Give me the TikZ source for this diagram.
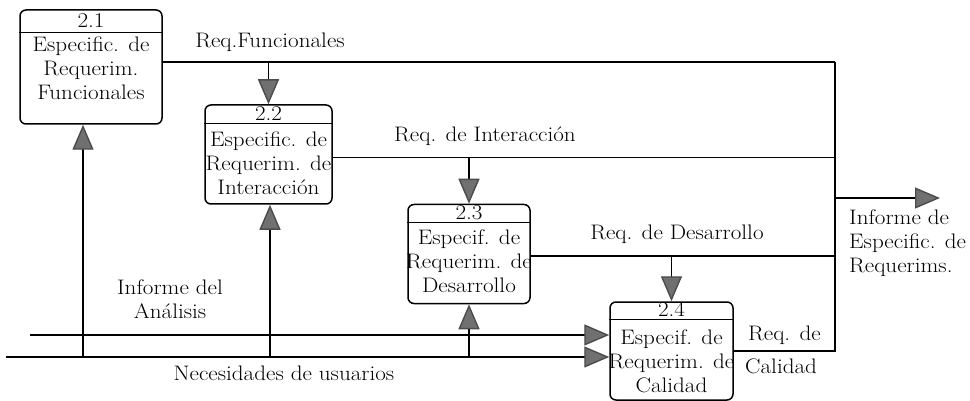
\documentclass[tikz,border=0pt]{standalone}
\usepackage{fontspec}
\setmainfont{Latin Modern Roman}[FakeStretch=1.1]
\usetikzlibrary{arrows.meta}
\definecolor{tipgray}{RGB}{112,112,112}
\tikzset{
	proc/.style={draw, line width=1.5pt, rounded corners=6pt},
	num/.style={anchor=base, inner sep=0pt, font=\fontsize{21}{24}\selectfont},
	body/.style={anchor=north, align=center, inner sep=0pt, font=\fontsize{21}{24}\selectfont},
	lbl/.style={inner sep=0pt, font=\fontsize{21}{24}\selectfont},
	flow/.style={line width=1.4pt},
	feed/.style={line width=1.4pt, -{Triangle[length=25pt,width=21pt,color=black!70,fill=tipgray]}}
}
\begin{document}
\begin{tikzpicture}[x=1pt, y=-1pt]
			\useasboundingbox (0,0) rectangle (970,401);
			
			\node[proc, minimum width=142pt, minimum height=114pt] (p21) at (91,67) {};
			\node[proc, minimum width=127pt, minimum height=99pt] (p22) at (268.5,154.5) {};
			\node[proc, minimum width=122pt, minimum height=99pt] (p23) at (469,254) {};
			\node[proc, minimum width=123pt, minimum height=98pt] (p24) at (671.5,351) {};
			
			\draw[line width=1.2pt] ([yshift=-23pt]p21.north west) -- ([yshift=-23pt]p21.north east);
			\draw[line width=1.2pt] ([yshift=-19pt]p22.north west) -- ([yshift=-19pt]p22.north east);
			\draw[line width=1.2pt] ([yshift=-19pt]p23.north west) -- ([yshift=-19pt]p23.north east);
			\draw[line width=1.2pt] ([yshift=-18pt]p24.north west) -- ([yshift=-18pt]p24.north east);
			
			\node[num] (n21) at ([yshift=-18pt]p21.north) {2.1};
			\node[num] (n22) at ([yshift=-16pt]p22.north) {2.2};
			\node[num] (n23) at ([yshift=-16pt]p23.north) {2.3};
			\node[num] (n24) at ([yshift=-15pt]p24.north) {2.4};
			
			\node[body] (b21) at ([yshift=-27pt]p21.north) {Especific. de\\Requerim.\\Funcionales};
			\node[body] (b22) at ([yshift=-27pt]p22.north) {Especific. de\\Requerim. de\\Interacción};
			\node[body] (b23) at ([yshift=-26pt]p23.north) {Especif. de\\Requerim. de\\Desarrollo};
			\node[body] (b24) at ([yshift=-28pt]p24.north) {Especif. de\\Requerim. de\\Calidad};
			
			\coordinate (busTop) at (835,62);
			\coordinate (busOut) at (835,198);
			\coordinate (busBot) at (835,351);
			\coordinate (outTip) at (940,198);
			\coordinate (inA) at (30,335);
			\coordinate (inB) at (6,357);
			\coordinate (tap1) at (83,357);
			\coordinate (tap2) at (270,357);
			
			\draw[flow] (p21.east |- busTop) -- (busTop);
			\draw[flow] ([yshift=-3pt]p22.east) -- ([yshift=-3pt]p22.east -| busTop);
			\draw[flow] ([yshift=-2pt]p23.east) -- ([yshift=-2pt]p23.east -| busTop);
			\draw[flow] (busTop) -- (busBot) -- (busBot -| p24.east);
			\draw[feed] (busOut) -- (outTip);
			
			\draw[feed] (p22.north |- busTop) -- (p22.north);
			\draw[feed] ([yshift=-3pt]p23.north |- p22.east) -- (p23.north);
			\draw[feed] ([yshift=-2pt]p24.north |- p23.east) -- (p24.north);
			
			\draw[feed] (inA) -- (inA -| p24.west);
			\draw[feed] (inB) -- (inB -| p24.west);
			\draw[feed] (tap1) -- (tap1 |- p21.south);
			\draw[feed] (tap2) -- (tap2 |- p22.south);
			\draw[feed] (p23.south |- inB) -- (p23.south);
			
			\node[lbl, anchor=base] (lf1) at (270,48) {Req.Funcionales};
			\node[lbl, anchor=base] (lf2) at (485,142) {Req. de Interacción};
			\node[lbl, anchor=base] (lf3) at (677,240) {Req. de Desarrollo};
			\node[lbl, anchor=base west] (lf4) at (748,340) {Req. de};
			\node[lbl, anchor=base west] (lf5) at (745,373) {Calidad};
			\node[lbl, anchor=north west, align=left] (lout) at (849,210) {Informe de\\Especific. de\\Requerims.};
			\node[lbl, anchor=north, align=center] (lin1) at (170,280) {Informe del\\Análisis};
			\node[lbl, anchor=base] (lin2) at (284,380) {Necesidades de usuarios};
		\end{tikzpicture}
\end{document}
